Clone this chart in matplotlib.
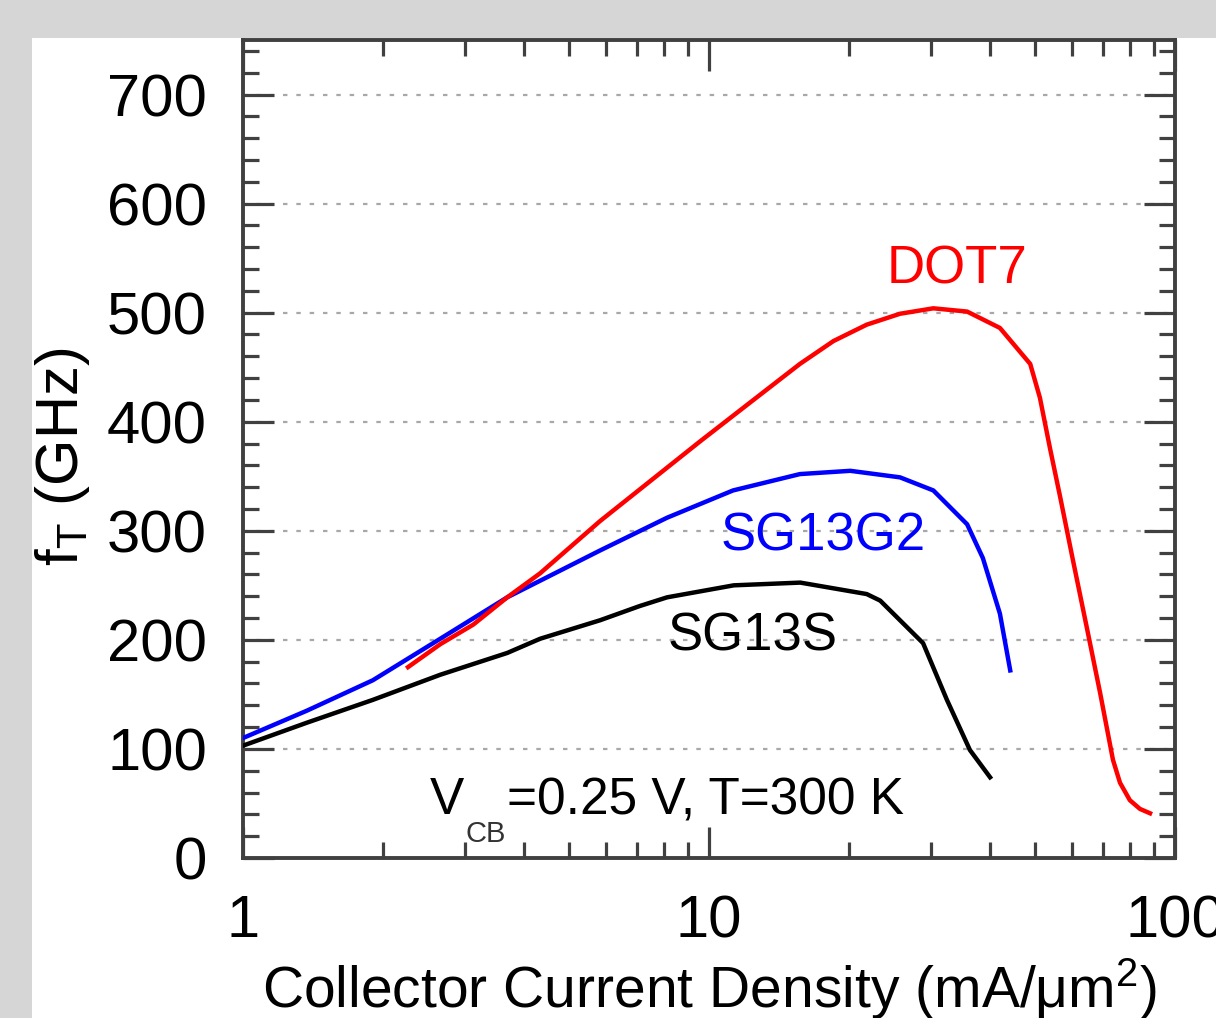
import matplotlib
matplotlib.use("Agg")
import matplotlib.pyplot as plt
from matplotlib.patches import Rectangle
from matplotlib.ticker import LogLocator, MultipleLocator, FixedLocator, NullFormatter

plt.rcParams['font.family'] = ['Liberation Sans', 'DejaVu Sans']
plt.rcParams['mathtext.fontset'] = 'custom'
plt.rcParams['mathtext.rm'] = 'Liberation Sans'
plt.rcParams['mathtext.it'] = 'Liberation Sans:italic'

# Collector current density (mA/um^2) and fT (GHz)
jc_sg13s = [1, 1.37, 1.9, 2.65, 3.69, 4.34, 5.84, 7.1, 8.13, 11.3, 15.7, 21.8, 23.3, 28.8, 32.4, 36.3, 40.1]
ft_sg13s = [103, 124, 145, 168, 188, 201, 218, 231, 239, 250, 252.5, 242, 236, 197, 145, 99, 74]

jc_sg13g2 = [1, 1.37, 1.9, 2.65, 3.69, 5.84, 8.13, 11.26, 15.67, 20.1, 25.7, 30.3, 35.8, 38.7, 42.1, 44.3]
ft_sg13g2 = [110, 135, 163, 201, 239, 282, 312, 337, 352, 355, 349, 337, 306, 275, 224, 172]

jc_dot7 = [2.26, 2.65, 3.12, 3.69, 4.34, 5.84, 9.57, 12.2, 15.67, 18.5, 21.8, 25.7, 30.3, 35.8, 42.1,
           48.9, 51.3, 53.9, 56.7, 60.4, 64.7, 69.1, 73.6, 76.2, 80.0, 84.1, 88.4]
ft_dot7 = [175, 196, 214, 239, 261, 309, 382, 417, 453, 474, 489, 499, 504, 501, 486,
           453, 422, 376, 331, 273, 211, 151, 90, 69, 53, 45, 41]

y_major = [0, 100, 200, 300, 400, 500, 600, 700]
x_major = [1, 10, 100]
x_labels = ['1', '10', '100']

fig = plt.figure(figsize=(12.16, 10.18), dpi=100, facecolor='#d6d6d6')
# white panel that sits on the grey page, behind the axes
fig.patches.append(Rectangle((32 / 1216, 0), 1 - 32 / 1216, 1 - 38 / 1018,
                             transform=fig.transFigure, facecolor='white',
                             edgecolor='none', zorder=-10))

ax = fig.add_axes([243 / 1216, 160 / 1018, 932 / 1216, 818 / 1018])
ax.set_facecolor('white')

lw = 3.2
ax.plot(jc_sg13s, ft_sg13s, color='black', lw=lw, zorder=3)
ax.plot(jc_sg13g2, ft_sg13g2, color='#0000ff', lw=lw, zorder=3)
ax.plot(jc_dot7, ft_dot7, color='#ff0000', lw=lw, zorder=4)

ax.set_xscale('log')
ax.set_xlim(1, 100)
ax.set_ylim(0, 750)

# dotted horizontal grid at the major y ticks
for yv in y_major[1:]:
    ax.axhline(yv, color='#a8a8a8', lw=1.6, ls=(0, (2, 4)), zorder=1)

ax.xaxis.set_major_locator(FixedLocator(x_major))
ax.set_xticklabels(x_labels)
ax.xaxis.set_minor_locator(LogLocator(base=10, subs=range(2, 10)))
ax.xaxis.set_minor_formatter(NullFormatter())
ax.yaxis.set_major_locator(FixedLocator(y_major))
ax.yaxis.set_minor_locator(MultipleLocator(20))

spine_col = '#404040'
for s in ax.spines.values():
    s.set_color(spine_col)
    s.set_linewidth(2.8)

ax.tick_params(which='both', direction='in', top=True, right=True, color=spine_col,
               width=2.3, labelsize=43)
ax.tick_params(which='major', length=22)
ax.tick_params(which='minor', length=11.5)
ax.tick_params(axis='y', pad=26)
ax.tick_params(axis='x', pad=26)

ax.set_ylabel(r'f$_{\mathregular{T}}$ (GHz)', fontsize=43)
ax.yaxis.set_label_coords(-0.162, 0.49)
ax.set_xlabel(r'Collector Current Density (mA/μm$^{\mathregular{2}}$)', fontsize=41)
ax.xaxis.set_label_coords(0.5, -0.12)

# curve labels
ax.text(34.0, 540, 'DOT7', color='#ff0000', fontsize=38, ha='center', va='center')
ax.text(17.6, 295, 'SG13G2', color='#0000ff', fontsize=38, ha='center', va='center')
ax.text(12.4, 203, 'SG13S', color='black', fontsize=38, ha='center', va='center')

# bias condition, with a small low-set subscript
t_v = ax.text(2.52, 40, 'V', color='black', fontsize=37, ha='left', va='baseline')
t_cb = ax.annotate('CB', xy=(1, 0), xycoords=t_v, xytext=(1, -12),
                   textcoords='offset points', fontsize=21, color='#333333',
                   ha='left', va='baseline')
ax.annotate('=0.25 V, T=300 K', xy=(1, 0), xycoords=(t_cb, t_v), xytext=(1, 0),
            textcoords='offset points', fontsize=37, color='black',
            ha='left', va='bottom')

fig.savefig('out.png', dpi=100, facecolor=fig.get_facecolor())
